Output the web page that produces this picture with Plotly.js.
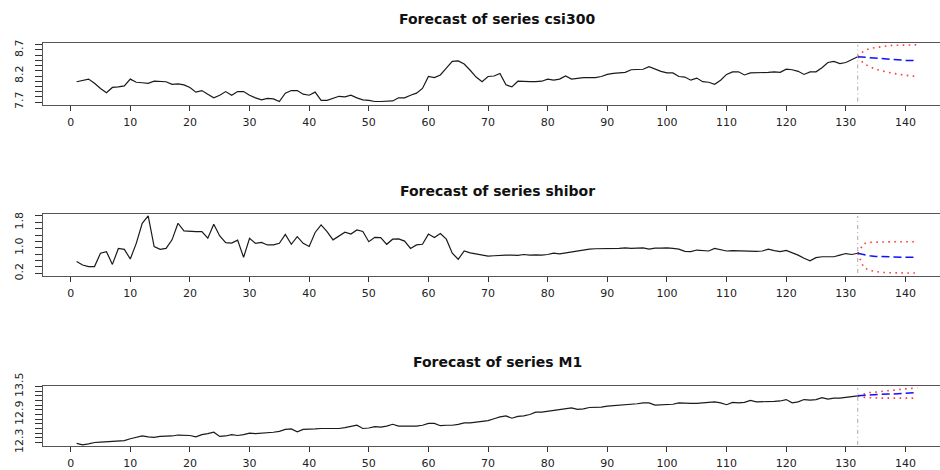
<!DOCTYPE html>
<html>
<head>
<meta charset="utf-8">
<script src="https://cdn.plot.ly/plotly-3.0.1.min.js"></script>
<style>
html,body{margin:0;padding:0;overflow:hidden;background:#fff;width:940px;height:470px;}
#chart{width:960px;height:470px;}
</style>
</head>
<body>
<div id="chart"></div>
<script>
// ---------- data ----------
const titles = ["Forecast of series csi300", "Forecast of series shibor", "Forecast of series M1"];
const xTickVals = [0, 10, 20, 30, 40, 50, 60, 70, 80, 90, 100, 110, 120, 130, 140];

const csi300 = [
  8.09, 8.12, 8.14, 8.06, 7.96, 7.88, 7.98, 7.99, 8.01, 8.14,
  8.08, 8.07, 8.06, 8.10, 8.10, 8.09, 8.04, 8.05, 8.03, 7.98,
  7.89, 7.92, 7.85, 7.78, 7.83, 7.90, 7.83, 7.90, 7.90, 7.83,
  7.78, 7.74, 7.77, 7.76, 7.71, 7.87, 7.92, 7.92, 7.85, 7.83,
  7.89, 7.73, 7.73, 7.77, 7.81, 7.80, 7.83, 7.78, 7.74, 7.73,
  7.71, 7.71, 7.71, 7.72, 7.78, 7.78, 7.83, 7.87, 7.96, 8.19,
  8.17, 8.22, 8.35, 8.48, 8.49, 8.43, 8.31, 8.18, 8.09, 8.19,
  8.20, 8.25, 8.03, 7.99, 8.10, 8.09, 8.09, 8.09, 8.10, 8.14,
  8.12, 8.14, 8.20, 8.14, 8.16, 8.17, 8.17, 8.17, 8.19, 8.23,
  8.25, 8.26, 8.27, 8.32, 8.32, 8.33, 8.38, 8.33, 8.29, 8.26,
  8.26, 8.19, 8.18, 8.12, 8.16, 8.09, 8.08, 8.04, 8.12, 8.23,
  8.28, 8.28, 8.22, 8.26, 8.26, 8.26, 8.27, 8.28, 8.27, 8.33,
  8.32, 8.29, 8.23, 8.28, 8.28, 8.36, 8.46, 8.48, 8.44, 8.46,
  8.51, 8.57
];
const shibor = [
  0.57, 0.46, 0.41, 0.41, 0.83, 0.88, 0.48, 0.98, 0.95, 0.65,
  1.14, 1.77, 2.00, 1.04, 0.95, 0.98, 1.25, 1.77, 1.53, 1.51,
  1.51, 1.51, 1.30, 1.74, 1.37, 1.16, 1.15, 1.24, 0.70, 1.30,
  1.14, 1.17, 1.09, 1.09, 1.14, 1.42, 1.11, 1.35, 1.14, 1.04,
  1.48, 1.72, 1.51, 1.25, 1.37, 1.49, 1.43, 1.56, 1.51, 1.19,
  1.33, 1.32, 1.11, 1.27, 1.28, 1.21, 0.98, 1.09, 1.11, 1.43,
  1.32, 1.45, 1.27, 0.83, 0.64, 0.90, 0.84, 0.81, 0.79, 0.74,
  0.75, 0.77, 0.77, 0.77, 0.76, 0.79, 0.77, 0.78, 0.77, 0.79,
  0.83, 0.81, 0.84, 0.86, 0.91, 0.93, 0.96, 0.97, 0.97, 0.97,
  0.98, 0.98, 1.00, 0.98, 0.99, 1.00, 0.96, 0.99, 0.99, 1.00,
  0.98, 0.96, 0.89, 0.88, 0.93, 0.91, 0.90, 0.98, 0.93, 0.90,
  0.91, 0.90, 0.89, 0.88, 0.89, 0.90, 0.96, 0.91, 0.88, 0.92,
  0.85, 0.77, 0.67, 0.59, 0.69, 0.72, 0.72, 0.72, 0.77, 0.82,
  0.79, 0.83
];
const m1 = [
  12.28, 12.25, 12.27, 12.30, 12.31, 12.32, 12.33, 12.34, 12.34, 12.38,
  12.41, 12.44, 12.42, 12.41, 12.43, 12.43, 12.44, 12.46, 12.45, 12.45,
  12.42, 12.47, 12.49, 12.52, 12.43, 12.44, 12.47, 12.45, 12.47, 12.50,
  12.49, 12.50, 12.50, 12.52, 12.54, 12.58, 12.59, 12.53, 12.58, 12.58,
  12.59, 12.60, 12.60, 12.60, 12.60, 12.62, 12.64, 12.67, 12.60, 12.61,
  12.64, 12.63, 12.65, 12.69, 12.65, 12.65, 12.64, 12.65, 12.67, 12.71,
  12.71, 12.66, 12.67, 12.67, 12.69, 12.72, 12.72, 12.74, 12.75, 12.77,
  12.81, 12.85, 12.87, 12.82, 12.86, 12.87, 12.90, 12.95, 12.95, 12.97,
  12.98, 13.00, 13.02, 13.04, 13.01, 13.02, 13.05, 13.05, 13.06, 13.08,
  13.09, 13.10, 13.10, 13.12, 13.13, 13.15, 13.15, 13.10, 13.11, 13.12,
  13.12, 13.15, 13.14, 13.14, 13.14, 13.15, 13.15, 13.17, 13.15, 13.11,
  13.16, 13.15, 13.16, 13.20, 13.17, 13.17, 13.17, 13.18, 13.19, 13.22,
  13.15, 13.17, 13.22, 13.21, 13.22, 13.26, 13.23, 13.25, 13.25, 13.27,
  13.28, 13.30
];

// forecast horizon (starts at the last observation, 132)
const fcX = [132, 133, 134, 135, 136, 137, 138, 139, 140, 141, 142];
const csiFc    = [8.57, 8.56, 8.55, 8.54, 8.53, 8.52, 8.52, 8.51, 8.50, 8.50, 8.49];
const csiUpper = [8.57, 8.68, 8.73, 8.75, 8.77, 8.78, 8.79, 8.79, 8.80, 8.80, 8.80];
const csiLower = [8.57, 8.44, 8.38, 8.33, 8.30, 8.27, 8.25, 8.23, 8.21, 8.20, 8.19];
const shiborFc    = [0.83, 0.78, 0.75, 0.73, 0.72, 0.71, 0.71, 0.70, 0.70, 0.70, 0.70];
const shiborUpper = [0.83, 1.13, 1.17, 1.18, 1.19, 1.19, 1.19, 1.19, 1.19, 1.19, 1.19];
const shiborLower = [0.83, 0.38, 0.29, 0.25, 0.23, 0.22, 0.21, 0.21, 0.21, 0.21, 0.21];
const m1Fc    = [13.30, 13.31, 13.31, 13.32, 13.33, 13.34, 13.34, 13.35, 13.36, 13.36, 13.37];
const m1Upper = [13.30, 13.33, 13.37, 13.38, 13.40, 13.41, 13.42, 13.44, 13.45, 13.46, 13.47];
const m1Lower = [13.30, 13.27, 13.26, 13.25, 13.25, 13.25, 13.25, 13.25, 13.25, 13.25, 13.25];

// y tick marks and labels
const csiTicks = [7.7, 7.8, 7.9, 8.0, 8.1, 8.2, 8.3, 8.4, 8.5, 8.6, 8.7, 8.8];
const csiLabels = ["7.7", "", "", "", "", "8.2", "", "", "", "", "8.7", ""];
const shiborTicks = [0.2, 0.4, 0.6, 0.8, 1.0, 1.2, 1.4, 1.6, 1.8, 2.0];
const shiborLabels = ["0.2", "", "", "", "1.0", "", "", "", "1.8", ""];
const m1Ticks = [12.3, 12.4, 12.5, 12.6, 12.7, 12.8, 12.9, 13.0, 13.1, 13.2, 13.3, 13.4, 13.5];
const m1Labels = ["12.3", "", "", "", "", "", "12.9", "", "", "", "", "", "13.5"];

// ---------- drawing ----------
const obsX = csi300.map((_, i) => i + 1);
const H = 470;
function dom(topPx, botPx) { return [1 - botPx / H, 1 - topPx / H]; }

const panels = [
  {obs: csi300, fc: csiFc, up: csiUpper, lo: csiLower, ticks: csiTicks, labels: csiLabels,
   range: [7.652, 8.844], box: [42.5, 104.5], title: titles[0]},
  {obs: shibor, fc: shiborFc, up: shiborUpper, lo: shiborLower, ticks: shiborTicks, labels: shiborLabels,
   range: [0.125, 2.06], box: [214, 275.7], title: titles[1]},
  {obs: m1, fc: m1Fc, up: m1Upper, lo: m1Lower, ticks: m1Ticks, labels: m1Labels,
   range: [12.225, 13.517], box: [385.7, 446], title: titles[2]}
];

const traces = [];
const layout = {
  width: 960, height: 470,
  margin: {l: 43, r: 9.3, t: 0, b: 0, pad: 0},
  showlegend: false,
  paper_bgcolor: '#ffffff', plot_bgcolor: '#ffffff',
  font: {family: 'DejaVu Sans, sans-serif', size: 11, color: '#222'},
  annotations: [], shapes: []
};

panels.forEach((p, k) => {
  const sx = k === 0 ? '' : String(k + 1);
  const xa = 'x' + sx, ya = 'y' + sx;
  traces.push({x: obsX, y: p.obs, xaxis: xa, yaxis: ya, type: 'scatter', mode: 'lines',
               line: {color: '#1a1a1a', width: 1.2}, hoverinfo: 'skip'});
  traces.push({x: fcX, y: p.up, xaxis: xa, yaxis: ya, type: 'scatter', mode: 'lines',
               line: {color: '#ff3a3a', width: 1.6, dash: '1.6px,4.4px'}, hoverinfo: 'skip'});
  traces.push({x: fcX, y: p.lo, xaxis: xa, yaxis: ya, type: 'scatter', mode: 'lines',
               line: {color: '#ff3a3a', width: 1.6, dash: '1.6px,4.4px'}, hoverinfo: 'skip'});
  traces.push({x: fcX, y: p.fc, xaxis: xa, yaxis: ya, type: 'scatter', mode: 'lines',
               line: {color: '#1010ff', width: 1.5, dash: '8px,4px'}, hoverinfo: 'skip'});

  layout['xaxis' + sx] = {
    anchor: ya, range: [-4.64, 147.64], tickvals: xTickVals, ticktext: xTickVals.map(String),
    ticks: 'outside', ticklen: 5, tickwidth: 1, tickcolor: '#333',
    showline: true, linecolor: '#555', linewidth: 1, mirror: true,
    showgrid: false, zeroline: false, ticklabelstandoff: 2,
    tickfont: {family: 'DejaVu Sans, sans-serif', size: 11, color: '#222'}
  };
  layout['yaxis' + sx] = {
    anchor: xa, domain: dom(p.box[0], p.box[1]), range: p.range,
    tickvals: p.ticks, ticktext: p.labels, tickangle: -90,
    ticks: 'outside', ticklen: 7, tickwidth: 1, tickcolor: '#333',
    showline: true, linecolor: '#555', linewidth: 1, mirror: true,
    showgrid: false, zeroline: false, ticklabelstandoff: 8,
    tickfont: {family: 'DejaVu Sans, sans-serif', size: 11, color: '#222'}
  };
  const all = p.obs.concat(p.up, p.lo);
  layout.shapes.push({type: 'line', xref: xa, yref: ya, x0: 132, x1: 132,
    y0: Math.min.apply(null, all), y1: Math.max.apply(null, all),
    line: {color: '#a8a8a8', width: 1, dash: '4px,3px,1px,3px'}});
  layout.annotations.push({text: '<b>' + p.title + '</b>', xref: 'paper', yref: 'paper',
    x: 0.5, xanchor: 'center', y: 1 - (p.box[0] - 23.5) / H, yanchor: 'middle',
    showarrow: false, font: {family: 'DejaVu Sans, sans-serif', size: 14, color: '#111'}});
});

Plotly.newPlot('chart', traces, layout, {displayModeBar: false, staticPlot: true});
</script>
</body>
</html>
